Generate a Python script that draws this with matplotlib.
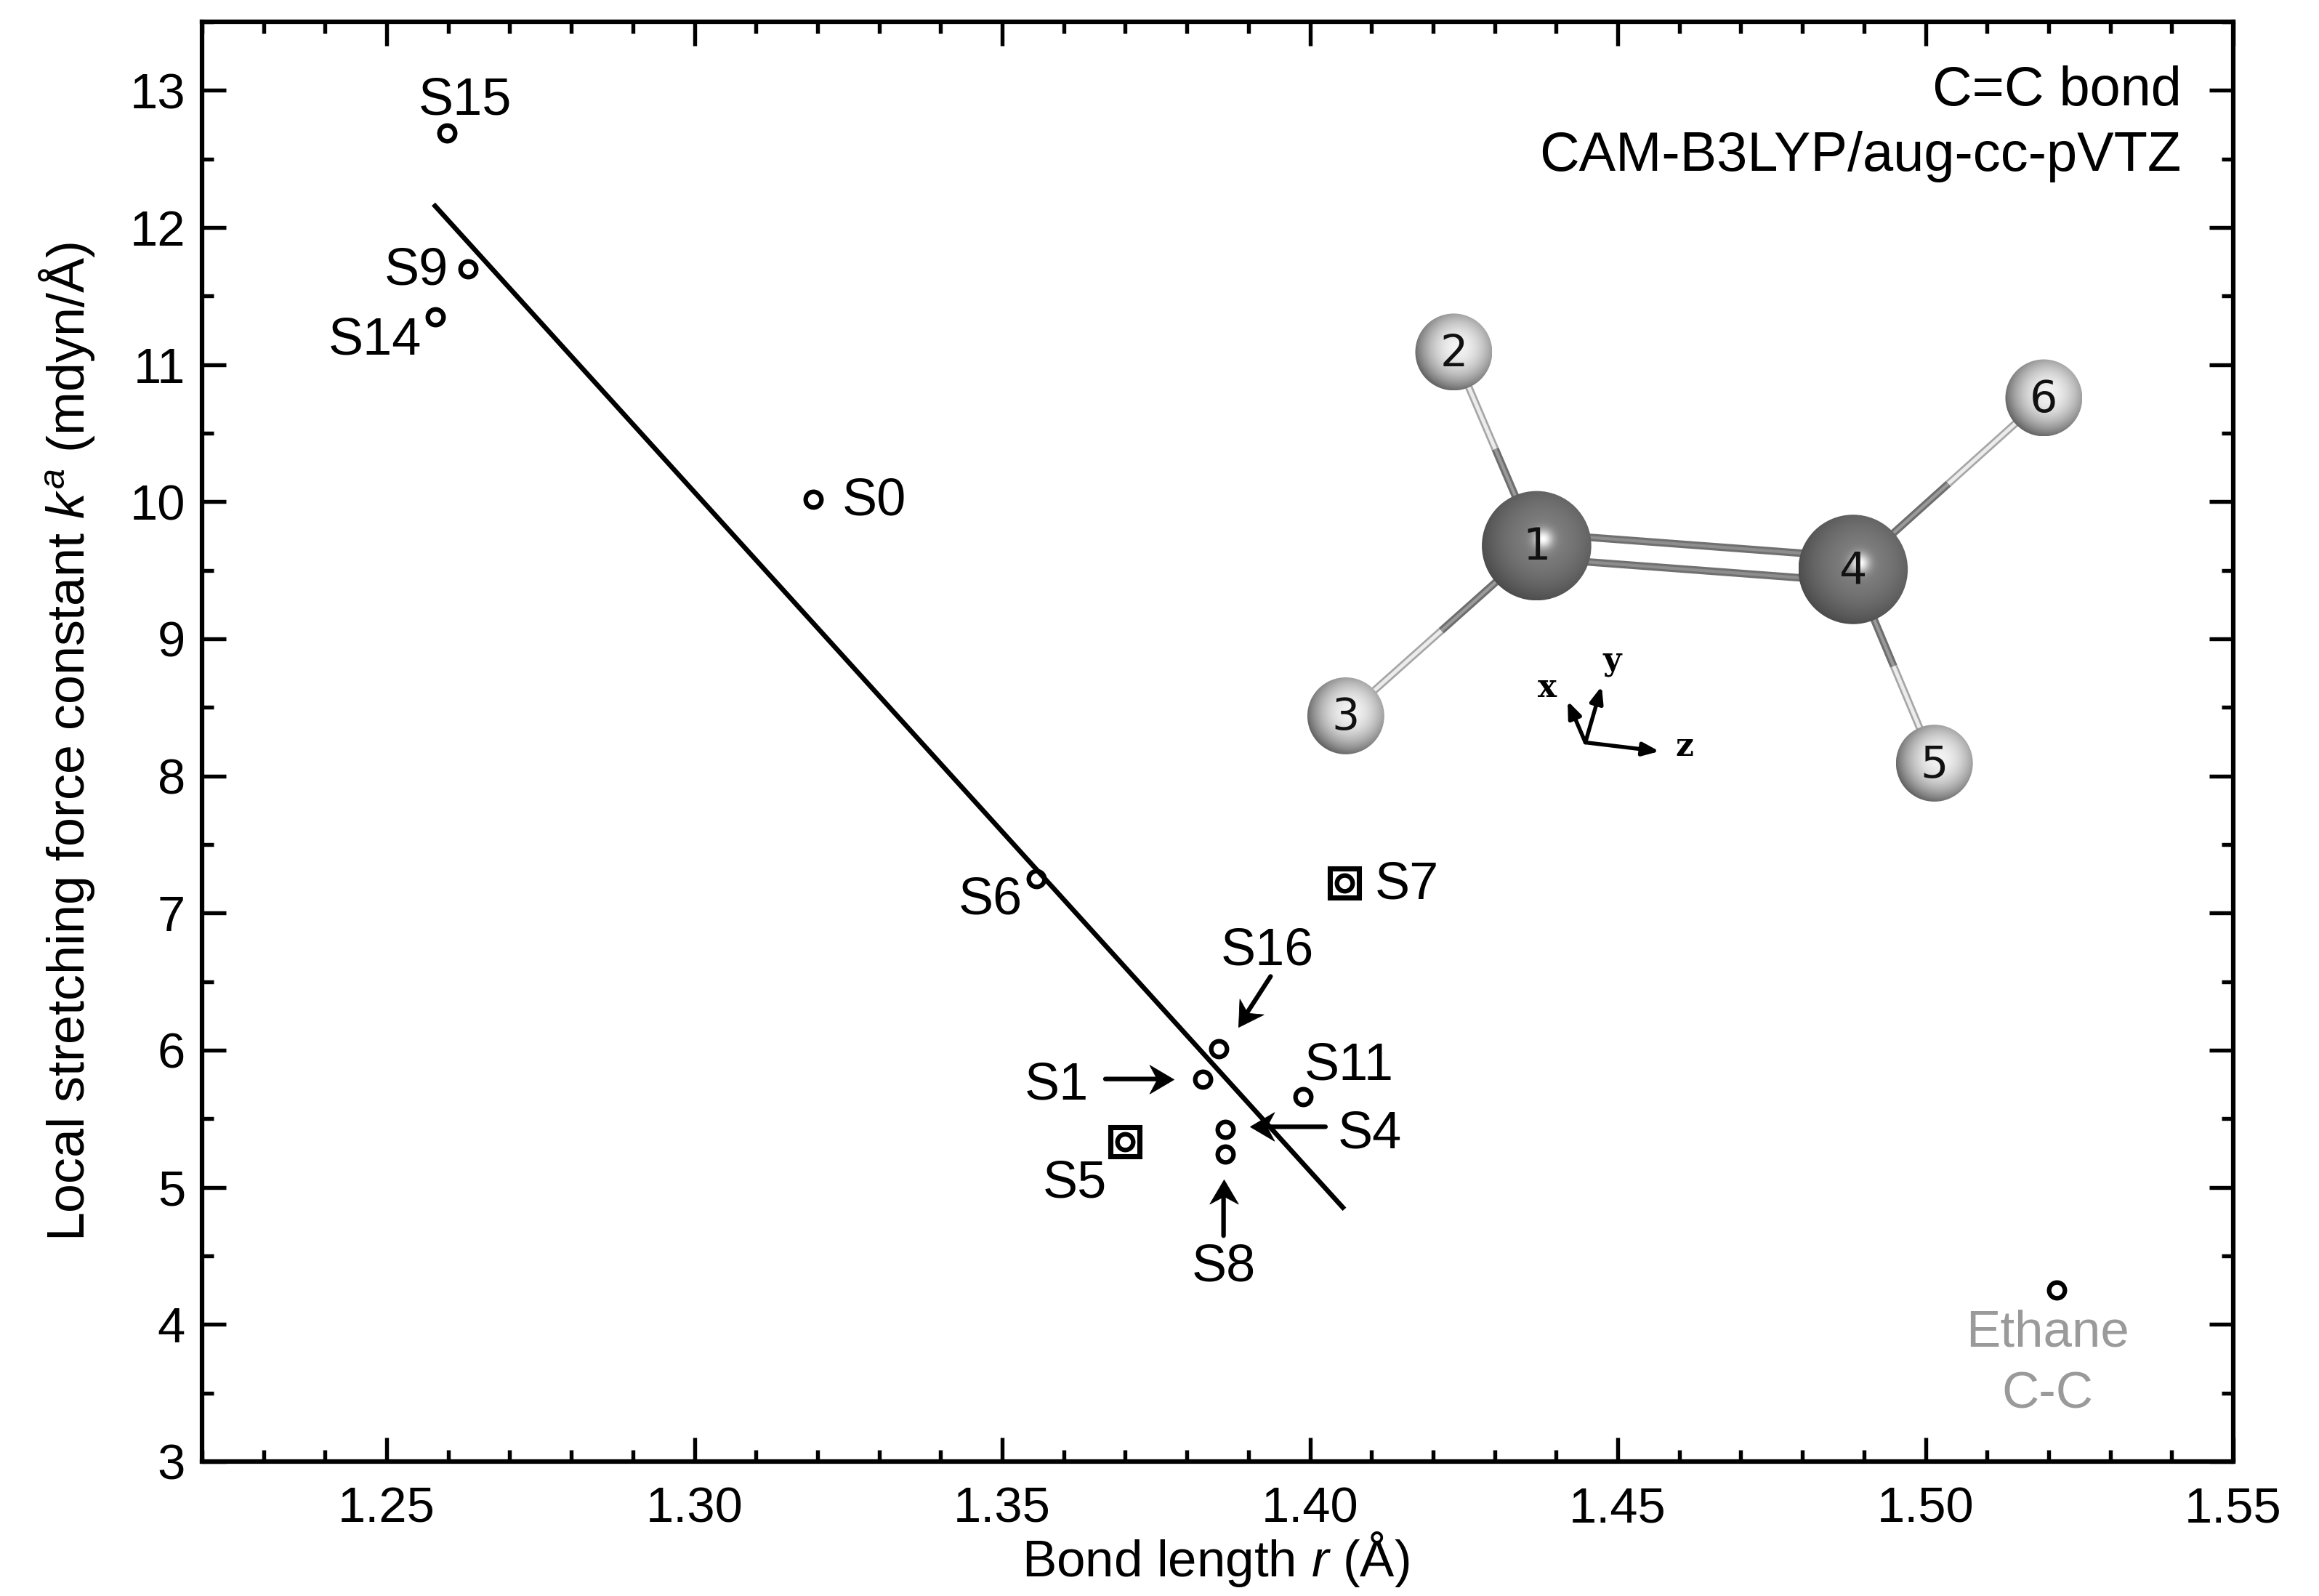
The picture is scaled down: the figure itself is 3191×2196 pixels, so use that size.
import numpy as np
import matplotlib
matplotlib.use('Agg')
import matplotlib.pyplot as plt
from matplotlib.patches import Circle
from matplotlib.path import Path
from matplotlib.transforms import offset_copy

plt.rcParams['font.family'] = ['Liberation Sans', 'DejaVu Sans']
plt.rcParams['mathtext.fontset'] = 'custom'
plt.rcParams['mathtext.rm'] = 'Liberation Sans'
plt.rcParams['mathtext.it'] = 'Liberation Sans:italic'

# data
names = ['S15', 'S9', 'S14', 'S0', 'S6', 'S16', 'S1', 'S11', 'S4', 'S8']
bond_len = [1.2598, 1.2632, 1.2579, 1.3193, 1.3555, 1.3852, 1.3826, 1.3989, 1.3862, 1.3862]
force_k = [12.69, 11.70, 11.35, 10.02, 7.25, 6.01, 5.79, 5.66, 5.42, 5.24]
boxed_names = ['S7', 'S5']
boxed_len = [1.4056, 1.3699]
boxed_k = [7.22, 5.33]
ethane_len = [1.5213]
ethane_k = [4.25]
fit_len = [1.2576, 1.4056]
fit_k = [12.17, 4.84]

x_ticks = [1.25, 1.30, 1.35, 1.40, 1.45, 1.50, 1.55]
y_ticks = [3, 4, 5, 6, 7, 8, 9, 10, 11, 12, 13]

W, H = 3191, 2196
DPI = 300
PT = 0.488  # one pixel of the shrunk picture in points

fig = plt.figure(figsize=(W / DPI, H / DPI), dpi=DPI)
L, R, T, B = 278, 3073, 30, 2011
ax = fig.add_axes([L / W, 1 - B / H, (R - L) / W, (B - T) / H])
ax.set_xlim(1.22, 1.55)
ax.set_ylim(3, 13.5)

# fit line and points
ax.plot(fit_len, fit_k, color='black', lw=1.6, solid_capstyle='butt', zorder=2)
ax.plot(bond_len, force_k, 'o', ms=5.2, mfc='none', mec='black', mew=1.5, zorder=3)
ax.plot(ethane_len, ethane_k, 'o', ms=5.2, mfc='none', mec='black', mew=1.5, zorder=3)
ax.plot(boxed_len, boxed_k, 'o', ms=5.2, mfc='none', mec='black', mew=1.5, zorder=3)
ax.plot(boxed_len, boxed_k, 's', ms=9.8, mfc='none', mec='black', mew=1.7, zorder=3)

# label offsets from the point, shrunk picture pixels
offsets = {'S15': (12, 21.5), 'S9': (-35, -1.5), 'S14': (-41, -16.5), 'S0': (41, -1.5),
           'S6': (-31, -14.5), 'S7': (42, -1.5), 'S16': (33, 66), 'S1': (-99, -4.5),
           'S11': (31, 20.5), 'S4': (98, -3), 'S8': (-1, -76.5), 'S5': (-34, -28.5)}
# tail and tip of the arrows, relative to the point
arrows = {'S16': ((35, 49), (13, 15)), 'S1': ((-66, 0), (-20, 0)),
          'S4': ((68, 2), (17, 2)), 'S8': ((-1, -55), (-1, -17))}

# barbed arrow head, pointing along +x with the tip at the origin
barb = np.array([(0, 0), (-1.05, 0.62), (-0.72, 0), (-1.05, -0.62), (0, 0)])


def arrow(px, py, tail, tip):
    x0, y0 = tail
    x1, y1 = tip
    ang = np.arctan2(y1 - y0, x1 - x0)
    # the stem stops inside the notch of the head
    back = 10 * PT
    xb = x1 * PT - back * np.cos(ang)
    yb = y1 * PT - back * np.sin(ang)
    ax.annotate('', xy=(px, py), xytext=(px, py),
                xycoords=offset_copy(ax.transData, fig, x=xb, y=yb, units='points'),
                textcoords=offset_copy(ax.transData, fig, x=x0 * PT, y=y0 * PT, units='points'),
                arrowprops=dict(arrowstyle='-', color='black', lw=1.5, shrinkA=0, shrinkB=0), zorder=4)
    rot = np.array([[np.cos(ang), -np.sin(ang)], [np.sin(ang), np.cos(ang)]])
    verts = barb @ rot.T
    # custom markers get scaled by their largest coordinate, so the tip stays put
    size = 16 * np.abs(verts).max() / 1.05
    ax.plot([px], [py], marker=Path(verts, closed=True), ms=size, mfc='black', mec='black', mew=0.2, zorder=4,
            transform=offset_copy(ax.transData, fig, x=x1 * PT, y=y1 * PT, units='points'))


points = dict(zip(names + boxed_names, zip(bond_len + boxed_len, force_k + boxed_k)))
for name, (px, py) in points.items():
    dx, dy = offsets[name]
    ax.annotate(name, (px, py), xytext=(dx * PT, dy * PT), textcoords='offset points',
                ha='center', va='center', fontsize=17.3, zorder=4)
    if name in arrows:
        arrow(px, py, arrows[name][0], arrows[name][1])

ax.annotate('Ethane', (ethane_len[0], ethane_k[0]), xytext=(-6 * PT, -29 * PT), textcoords='offset points',
            ha='center', va='center', fontsize=17, color='#9a9a9a')
ax.annotate('C-C', (ethane_len[0], ethane_k[0]), xytext=(-6 * PT, -71 * PT), textcoords='offset points',
            ha='center', va='center', fontsize=17, color='#9a9a9a')

ax.text(1.5416, 12.995, 'C=C bond', ha='right', va='center', fontsize=18.2)
ax.text(1.5416, 12.515, 'CAM-B3LYP/aug-cc-pVTZ', ha='right', va='center', fontsize=18.2)

# axes
ax.set_xticks(x_ticks)
ax.set_xticklabels(['%.2f' % t for t in x_ticks])
ax.set_yticks(y_ticks)
ax.set_xticks(np.arange(1.22, 1.5501, 0.01), minor=True)
ax.set_yticks(np.arange(3, 13.51, 0.5), minor=True)
ax.tick_params(which='major', direction='in', top=True, right=True, length=8, width=1.3,
               labelsize=16.5)
ax.tick_params(axis='x', which='major', pad=8)
ax.tick_params(axis='y', which='major', pad=5.5)
ax.tick_params(which='minor', direction='in', top=True, right=True, length=3.9, width=1.3)
for s in ax.spines.values():
    s.set_linewidth(1.5)

ax.set_xlabel('Bond length $r$ (Å)', fontsize=17, va='center')
ax.xaxis.set_label_coords(0.499, -0.068)
ax.set_ylabel('Local stretching force constant $k^a$ (mdyn/Å)', fontsize=17.25, va='center')
ax.yaxis.set_label_coords(-0.0665, 0.5)

# molecule picture, drawn over the plot in pixel coordinates
mol = fig.add_axes([0, 0, 1, 1], facecolor='none')
mol.axis('off')

S = 2.035
atoms = {1: (1039, 369, 37), 4: (1253, 385, 37), 2: (983, 238, 26),
         6: (1382, 269, 26), 3: (910, 484, 26), 5: (1308, 516, 26)}
hydrogen_bonds = [(1, 2), (1, 3), (4, 5), (4, 6)]


def bond(a, b):
    # half dark towards the carbon, half light towards the hydrogen
    xa, ya = atoms[a][0] * S, atoms[a][1] * S
    xb, yb = atoms[b][0] * S, atoms[b][1] * S
    xm, ym = (xa + xb) / 2, (ya + yb) / 2
    mol.plot([xa, xm], [ya, ym], color='#6e6e6e', lw=2.5, solid_capstyle='butt', zorder=1)
    mol.plot([xa, xm], [ya, ym], color='#9a9a9a', lw=1.0, solid_capstyle='butt', zorder=1.1)
    mol.plot([xm, xb], [ym, yb], color='#a6a6a6', lw=2.5, solid_capstyle='butt', zorder=1)
    mol.plot([xm, xb], [ym, yb], color='#ececec', lw=1.2, solid_capstyle='butt', zorder=1.1)


for a, b in hydrogen_bonds:
    bond(a, b)

x1, y1 = atoms[1][0] * S, atoms[1][1] * S
x4, y4 = atoms[4][0] * S, atoms[4][1] * S
for shift in (-17, 17):
    mol.plot([x1, x4], [y1 + shift, y4 + shift], color='#707070', lw=2.5, solid_capstyle='butt', zorder=1)
    mol.plot([x1, x4], [y1 + shift, y4 + shift], color='#8e8e8e', lw=1.0, solid_capstyle='butt', zorder=1.1)


def sphere(num):
    cx, cy, r = atoms[num]
    cx, cy, r = cx * S, cy * S, r * S
    carbon = r > 60
    gx, gy = np.meshgrid(np.linspace(-1, 1, 300), np.linspace(-1, 1, 300))
    d = np.sqrt((gx - 0.12) ** 2 + (gy + 0.12) ** 2)
    if carbon:
        shade = 0.50 - 0.15 * np.clip(d, 0, 1.2) ** 2 + 0.50 * np.exp(-(d / 0.17) ** 2)
    else:
        shade = 0.95 - 0.42 * np.clip(d, 0, 1.2) ** 2
    im = mol.imshow(np.clip(shade, 0, 1), cmap='gray', vmin=0, vmax=1, extent=(cx - r, cx + r, cy + r, cy - r),
                    zorder=2, aspect='auto', interpolation='bilinear')
    im.set_clip_path(Circle((cx, cy), r, transform=mol.transData))
    mol.text(cx, cy + 3, str(num), ha='center', va='center', fontsize=14.5,
             family='DejaVu Sans', color='#111111', zorder=3)


for num in atoms:
    sphere(num)

# little coordinate frame
origin = (1072 * S, 502 * S)
frame_tips = {'x': (1060 * S, 474 * S), 'y': (1083 * S, 464 * S), 'z': (1122 * S, 508 * S)}
frame_text = {'x': (1046 * S, 465 * S), 'y': (1090 * S, 447 * S), 'z': (1139 * S, 505 * S)}
for k in frame_tips:
    mol.annotate('', xy=frame_tips[k], xytext=origin,
                 arrowprops=dict(arrowstyle='-|>,head_length=0.5,head_width=0.2', color='black', lw=1.3,
                                 shrinkA=0, shrinkB=0, mutation_scale=9), zorder=3)
    mol.text(frame_text[k][0], frame_text[k][1], k, ha='center', va='center', fontsize=10.5,
             family='DejaVu Serif', weight='bold', zorder=3)

mol.set_xlim(0, W)
mol.set_ylim(H, 0)

fig.savefig('out.png', dpi=DPI)
